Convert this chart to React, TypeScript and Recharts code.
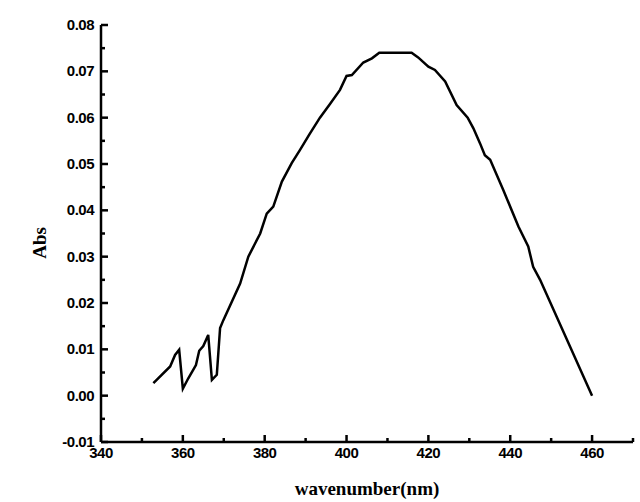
import { Line, LineChart, XAxis, YAxis } from 'recharts';

// wavelength (nm) and absorbance
const wavelength = [
  352.8, 356.9, 358.1, 359.1, 360.0, 361.3, 362.6, 363.2, 364.0, 365.0, 366.2, 367.1, 368.3, 369.1,
  369.9, 374.0, 376.0, 378.9, 380.5, 382.1, 384.2, 386.6, 388.6, 391.0, 393.5, 396.0, 398.4, 400.0,
  401.3, 404.1, 406.2, 408.0, 415.9, 417.5, 420.0, 421.6, 424.1, 426.9, 429.6, 431.0, 432.6, 433.8,
  435.1, 438.3, 442.0, 444.4, 445.6, 447.3, 460.0,
];
const absorbance = [
  0.0027, 0.0063, 0.0088, 0.0099, 0.0015, 0.0037, 0.0057, 0.0066, 0.0097, 0.0107, 0.0131, 0.0034,
  0.0045, 0.0146, 0.0163, 0.0242, 0.03, 0.035, 0.0393, 0.0408, 0.0462, 0.0502, 0.053, 0.0565, 0.06,
  0.063, 0.066, 0.069, 0.0692, 0.0719, 0.0728, 0.074, 0.074, 0.073, 0.071, 0.0703, 0.0678, 0.0627,
  0.06, 0.0577, 0.0545, 0.0519, 0.0509, 0.0444, 0.0365, 0.0322, 0.0278, 0.025, 0.0,
];

const xTicks = [340, 350, 360, 370, 380, 390, 400, 410, 420, 430, 440, 450, 460, 470];
const xLabelled = [340, 360, 380, 400, 420, 440, 460];
const yTicks = [
  -0.01, -0.005, 0, 0.005, 0.01, 0.015, 0.02, 0.025, 0.03, 0.035, 0.04, 0.045, 0.05, 0.055, 0.06,
  0.065, 0.07, 0.075, 0.08,
];

const rows = wavelength.map((wl, i) => ({ wl, abs: absorbance[i] }));

const tickFont = {
  fontFamily: '"Liberation Sans", Arial, sans-serif',
  fontWeight: 700,
  fontSize: 15,
  letterSpacing: -0.5,
};
const titleFont = {
  fontFamily: '"Liberation Serif", "Times New Roman", serif',
  fontWeight: 700,
  fontSize: 19,
};

// inward tick marks, labels only on the major ones
function XTick(props: any) {
  const x = Number(props.x);
  const y = Number(props.y);
  const v = props.payload.value;
  const major = xLabelled.includes(v);
  return (
    <g>
      <path d={`M${x},${y}V${y - (major ? 7 : 4)}`} stroke="#000" strokeWidth={2.5} fill="none" />
      {major && (
        <text x={x} y={y + 16} textAnchor="middle" fill="#000" {...tickFont}>
          {v}
        </text>
      )}
    </g>
  );
}

function YTick(props: any) {
  const x = Number(props.x);
  const y = Number(props.y);
  const v = props.payload.value;
  const major = Math.round(v * 1000) % 10 === 0;
  return (
    <g>
      <path d={`M${x},${y}H${x + (major ? 7 : 4)}`} stroke="#000" strokeWidth={2.5} fill="none" />
      {major && (
        <text x={x - 7} y={y + 5} textAnchor="end" fill="#000" {...tickFont}>
          {v.toFixed(2)}
        </text>
      )}
    </g>
  );
}

const axisLine = { stroke: '#000', strokeWidth: 2.5 };

export default function App() {
  return (
    <div style={{ position: 'absolute', left: 0, top: 0, width: 640, height: 502, background: '#fff' }}>
      <LineChart width={640} height={502} data={rows} margin={{ top: 25, right: 7, bottom: 30, left: 0 }}>
        <XAxis
          xAxisId="b"
          dataKey="wl"
          type="number"
          domain={[340, 470]}
          ticks={xTicks}
          interval={0}
          height={30}
          tickSize={0}
          tickMargin={0}
          tickLine={false}
          tick={<XTick />}
          axisLine={axisLine}
          label={() => (
            <text x={367} y={495} textAnchor="middle" fill="#000" {...titleFont}>
              wavenumber(nm)
            </text>
          )}
        />
        <XAxis
          xAxisId="t"
          orientation="top"
          dataKey="wl"
          type="number"
          domain={[340, 470]}
          height={0}
          tick={false}
          tickLine={false}
          axisLine={axisLine}
        />
        <YAxis
          yAxisId="l"
          type="number"
          domain={[-0.01, 0.08]}
          ticks={yTicks}
          interval={0}
          width={101}
          tickSize={0}
          tickMargin={0}
          tickLine={false}
          tick={<YTick />}
          axisLine={axisLine}
          label={() => (
            <text
              x={46}
              y={243}
              textAnchor="middle"
              fill="#000"
              transform="rotate(-90 46 243)"
              {...titleFont}
            >
              Abs
            </text>
          )}
        />
        <YAxis
          yAxisId="r"
          orientation="right"
          type="number"
          domain={[-0.01, 0.08]}
          width={0}
          tick={false}
          tickLine={false}
          axisLine={axisLine}
        />
        <Line
          xAxisId="b"
          yAxisId="l"
          type="linear"
          dataKey="abs"
          stroke="#000"
          strokeWidth={2.5}
          dot={false}
          isAnimationActive={false}
        />
      </LineChart>
    </div>
  );
}
